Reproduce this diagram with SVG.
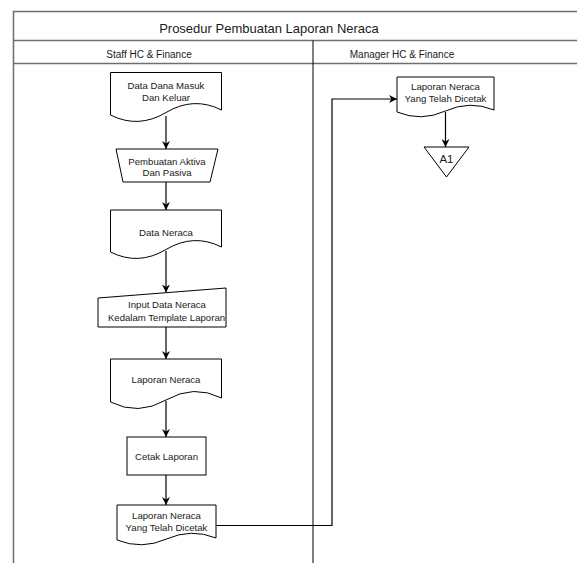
<svg xmlns="http://www.w3.org/2000/svg" width="577" height="563" viewBox="0 0 577 563">
<style>
.frame{fill:none;stroke:#6e6e6e;stroke-width:1.5}
.div{fill:none;stroke:#000;stroke-width:1}
.shape{fill:#fff;stroke:#000;stroke-width:1}
.t{font-family:"Liberation Sans",Arial,sans-serif;font-size:9.6px;fill:#1a1a1a;text-anchor:middle}
.title{font-size:13px}
.lane{font-size:10px}
.big{font-size:11.5px}
.edge{fill:none;stroke:#000;stroke-width:1.2}
</style>
<defs>
<marker id="arr" viewBox="0 0 10 10" refX="10" refY="5" markerWidth="8" markerHeight="8" markerUnits="userSpaceOnUse" orient="auto">
<path d="M0,0 L10,5 L0,10 L3,5 Z" fill="#000"/>
</marker>
</defs>
<rect x="0" y="0" width="577" height="563" fill="#fff"/>
<g id="pool">
<path class="frame" d="M13.5,563 V11.5 H577 M13.5,40.5 H577 M13.5,63.5 H577"/>
<path class="div" d="M313,40.5 V563"/>
<text class="t title" x="269" y="32.5">Prosedur Pembuatan Laporan Neraca</text>
<text class="t lane" x="149" y="57.5">Staff HC &amp; Finance</text>
<text class="t lane" x="402" y="57.5">Manager HC &amp; Finance</text>
</g>
<g id="connectors">
<path class="edge" d="M166,116 V149" marker-end="url(#arr)"/>
<path class="edge" d="M166,182 V210" marker-end="url(#arr)"/>
<path class="edge" d="M166,251 V292.5" marker-end="url(#arr)"/>
<path class="edge" d="M166,327 V359" marker-end="url(#arr)"/>
<path class="edge" d="M166,401 V437" marker-end="url(#arr)"/>
<path class="edge" d="M166,475 V505" marker-end="url(#arr)"/>
<path class="edge" d="M216,525.5 H332 V99 H397" marker-end="url(#arr)"/>
<path class="edge" d="M445.5,112 V147" marker-end="url(#arr)"/>
</g>
<g id="n1">
<path class="shape" d="M110.5,72.5 H221.5 V110 Q193.75,96 166,112.5 Q138.25,129 110.5,115 Z"/>
<text class="t" x="166" y="88.5">Data Dana Masuk</text>
<text class="t" x="166" y="100.5">Dan Keluar</text>
</g>
<g id="n2">
<path class="shape" d="M116,149 H218 L210,182 H123 Z"/>
<text class="t" x="167" y="164.5">Pembuatan Aktiva</text>
<text class="t" x="167" y="176">Dan Pasiva</text>
</g>
<g id="n3">
<path class="shape" d="M110.5,210 H221.5 V247 Q193.75,233 166,249.5 Q138.25,266 110.5,252 Z"/>
<text class="t" x="166" y="235.5">Data Neraca</text>
</g>
<g id="n4">
<path class="shape" d="M98,298 L226,288 V327 H98 Z"/>
<text class="t" x="167" y="308">Input Data Neraca</text>
<text class="t" x="166.5" y="321">Kedalam Template Laporan</text>
</g>
<g id="n5">
<path class="shape" d="M110.5,359 H221.5 V398 Q193.75,384 166,400 Q138.25,416 110.5,402 Z"/>
<text class="t" x="166" y="382.5">Laporan Neraca</text>
</g>
<g id="n6">
<rect class="shape" x="127" y="437" width="79" height="38"/>
<text class="t" x="166.5" y="460">Cetak Laporan</text>
</g>
<g id="n7">
<path class="shape" d="M117,505 H216 V538 Q191.25,528 166.5,539 Q141.75,550 117,540 Z"/>
<text class="t" x="166.5" y="518.5">Laporan Neraca</text>
<text class="t" x="166.5" y="530.5">Yang Telah Dicetak</text>
</g>
<g id="n8">
<path class="shape" d="M397,77 H494 V110 Q469.75,100 445.5,111 Q421.25,122 397,112 Z"/>
<text class="t" x="445.5" y="89.5">Laporan Neraca</text>
<text class="t" x="445.5" y="101.5">Yang Telah Dicetak</text>
</g>
<g id="n9">
<path class="shape" d="M424,147 H469 L446.5,177 Z"/>
<text class="t big" x="446.5" y="162.5">A1</text>
</g>
</svg>
